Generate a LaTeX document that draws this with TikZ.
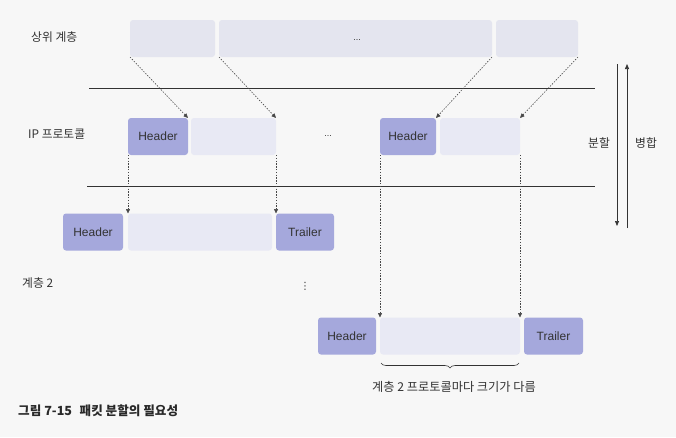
\documentclass[tikz,border=0pt]{standalone}
\usepackage{fontspec}
\setmainfont{Liberation Sans}
\newfontfamily\kr{Noto Sans CJK KR}
\newfontfamily\dv{DejaVu Sans}
\usetikzlibrary{arrows.meta,decorations.pathreplacing}
\definecolor{paper}{HTML}{F7F7F7}
\definecolor{hdrc}{HTML}{A5A8DC}
\definecolor{payc}{HTML}{E8E9F4}
\definecolor{topc}{HTML}{E4E5EF}
\definecolor{ink}{HTML}{333333}
\tikzset{
  box/.style={rounded corners=3pt, inner sep=0pt, outer sep=0pt, minimum height=37pt, text=ink},
  hdr/.style={box, fill=hdrc, font=\fontsize{12}{14}\selectfont},
  pay/.style={box, fill=payc},
  topbox/.style={box, fill=topc},
  lbl/.style={text=ink, font=\kr\fontsize{11.8}{13}\selectfont, inner sep=0pt},
  dotarrow/.style={draw=ink!90, line width=0.6pt, dash pattern=on 1.4pt off 1.4pt, -{Triangle[length=4.5pt,width=4pt]}},
  sep/.style={draw=ink, line width=0.8pt},
  bigarrow/.style={draw=ink, line width=0.7pt, -{Triangle[length=5pt,width=4pt]}}
}
\begin{document}
\begin{tikzpicture}[x=1pt,y=-1pt]
\fill[paper] (0,0) rectangle (676,437);
\useasboundingbox (0,0) rectangle (676,437);

% labels
\node[lbl, anchor=west] (lup) at (31,37) {상위 계층};
\node[lbl, anchor=west] (lip) at (28,134) {IP 프로토콜};
\node[lbl, anchor=west] (ll2) at (22,283) {계층 2};

% top row
\node[topbox, minimum width=85pt] (t1) at (172.5,38.5) {};
\node[topbox, minimum width=273pt] (t2) at (355.5,38.5) {};
\node[topbox, minimum width=82pt] (t3) at (537,38.5) {};
\node[text=ink, font=\fontsize{9}{10}\selectfont] (tdots) at (357,40) {...};

% separators
\coordinate (s1a) at (89,88); \coordinate (s1b) at (595,88);
\coordinate (s2a) at (87,186); \coordinate (s2b) at (595,186);
\draw[sep] (s1a) -- (s1b);
\draw[sep] (s2a) -- (s2b);

% IP row
\node[hdr, minimum width=60pt] (iph) at (158,136.5) {Header};
\node[pay, minimum width=85pt] (ipp) at (233.5,136.5) {};
\node[text=ink, font=\fontsize{9}{10}\selectfont] (ipdots) at (328,136) {...};
\node[hdr, minimum width=56pt] (iph2) at (408,136.5) {Header};
\node[pay, minimum width=80pt] (ipp2) at (480,136.5) {};

% layer 2 row
\node[hdr, minimum width=60pt] (lh) at (93,232) {Header};
\node[pay, minimum width=144pt] (lp) at (200,232) {};
\node[hdr, minimum width=58pt] (lt) at (305,232) {Trailer};
\node[text=ink, font=\dv\fontsize{10}{10}\selectfont, inner sep=0pt] (vdots) at (305,286) {⋮};

% bottom row
\node[hdr, minimum width=58pt] (bh) at (347,336) {Header};
\node[pay, minimum width=140pt] (bp) at (450,336) {};
\node[hdr, minimum width=59pt] (bt) at (553.5,336) {Trailer};

% connectors
\draw[dotarrow] (t1.south west) -- (iph.north east);
\draw[dotarrow] (t2.south west) -- (ipp.north east);
\draw[dotarrow] (t2.south east) -- (iph2.north east);
\draw[dotarrow] (t3.south east) -- (ipp2.north east);
\draw[dotarrow] (iph.south west) -- (lp.north west);
\draw[dotarrow] (ipp.south east) -- (lt.north west);
\draw[dotarrow] (iph2.south west) -- (bp.north west);
\draw[dotarrow] (ipp2.south east) -- (bp.north east);

% brace
\coordinate (br1) at (381,363); \coordinate (br2) at (519,363);
\draw[ink, line width=0.6pt, decorate, decoration={brace, mirror, amplitude=5pt}] (br1) -- (br2);
\node[lbl, font=\kr\fontsize{12.2}{14}\selectfont] (brt) at (454,387) {계층 2 프로토콜마다 크기가 다름};

% split / merge
\coordinate (sa) at (617,64); \coordinate (sb) at (617,226);
\coordinate (ma) at (627,228); \coordinate (mb) at (627,64);
\draw[bigarrow] (sa) -- (sb);
\draw[bigarrow] (ma) -- (mb);
\node[lbl] (split) at (599,143) {분할};
\node[lbl] (merge) at (646,143) {병합};

% caption
\node[anchor=west, text=ink!80!black, font=\kr\bfseries\fontsize{12.6}{14}\selectfont, inner sep=0pt] (cap) at (18,411) {그림 7-15\hspace{0.6em}패킷 분할의 필요성};
\end{tikzpicture}
\end{document}
